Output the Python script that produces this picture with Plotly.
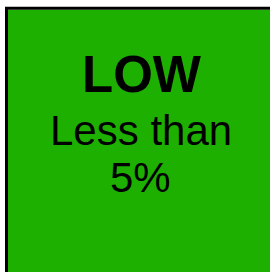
import plotly.graph_objects as go

level_label = ["LOW"]
level_description = ["Less than", "5%"]
fill_color = "#1db000"

W, H = 270, 272

fig = go.Figure()
fig.add_shape(type="rect", xref="x", yref="y", x0=6.5, y0=9.8, x1=W, y1=H,
              fillcolor=fill_color, line=dict(width=0), layer="below")
fig.add_shape(type="line", xref="x", yref="y", x0=5, y0=8.3, x1=W, y1=8.3,
              line=dict(color="black", width=3), layer="below")
fig.add_shape(type="line", xref="x", yref="y", x0=6.5, y0=8.3, x1=6.5, y1=H,
              line=dict(color="black", width=3), layer="below")

fig.add_annotation(x=142, y=74.5, xref="x", yref="y", text="<b>%s</b>" % level_label[0],
                   showarrow=False, font=dict(family="Liberation Sans, Arial", size=51, color="black"),
                   xanchor="center", yanchor="middle")
ys = [130.5, 177.5]
xs = [140.5, 140]
for t, xx, yy in zip(level_description, xs, ys):
    fig.add_annotation(x=xx, y=yy, xref="x", yref="y", text=t, showarrow=False,
                       font=dict(family="Liberation Sans, Arial", size=42, color="black"),
                       xanchor="center", yanchor="middle")

fig.update_layout(width=W, height=H, margin=dict(l=0, r=0, t=0, b=0),
                  paper_bgcolor="white", plot_bgcolor="white", showlegend=False,
                  xaxis=dict(range=[0, W], visible=False, fixedrange=True),
                  yaxis=dict(range=[H, 0], visible=False, fixedrange=True))
fig.write_html("out.html", config={"displayModeBar": False, "responsive": False},
               post_script=("document.documentElement.style.overflow='hidden';"
                            "document.documentElement.style.background='" + fill_color + "';"
                            "document.body.style.margin='0';"
                            "document.body.style.overflow='hidden';"
                            "var d=document.getElementById('{plot_id}');"
                            "d.style.display='block';"))
